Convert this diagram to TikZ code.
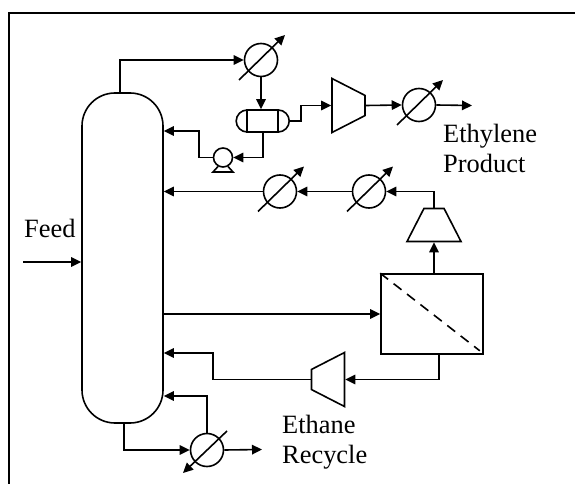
\documentclass[tikz,border=0pt]{standalone}
\usepackage{fontspec}
\setmainfont{Liberation Serif}
\usetikzlibrary{arrows.meta,calc,positioning,shapes.geometric}

\tikzset{
  stream/.style={line width=1.6bp,-{Triangle[length=10bp,width=9.5bp]}},
  pipe/.style={line width=1.6bp},
  hx/.style={circle,draw,line width=1.6bp,minimum size=33bp,inner sep=0pt},
  comp/.style={trapezium,draw,line width=1.6bp,trapezium stretches=true,trapezium left angle=50,trapezium right angle=50,minimum width=54bp,minimum height=33bp,inner sep=0pt,text width=2pt,text height=2pt,text depth=0pt},
  lbl/.style={font=\fontsize{26.5}{30}\selectfont,inner sep=0pt,align=left}
}

\begin{document}
\begin{tikzpicture}[x=1bp,y=-1bp]
  \useasboundingbox (0,0) rectangle (575,484);
  \draw[line width=2bp] (9.3,484)--(9.3,13.3)--(575,13.3);
  % column and units
  \node[draw,line width=1.6bp,rounded corners=33bp,minimum width=81bp,minimum height=330bp,inner sep=0pt] (col) at (122.5,258) {};
  \node[hx] (hxa) at (261,60) {};
  \node[hx] (hxb) at (419,105) {};
  \node[hx] (hxc) at (280,191.5) {};
  \node[hx] (hxd) at (369,191.5) {};
  \node[hx] (hxe) at (207,450) {};
  \node[draw,line width=1.6bp,rounded corners=11bp,minimum width=53bp,minimum height=22bp,inner sep=0pt] (drum) at (262.7,121) {};
  \node[circle,draw,line width=1.6bp,minimum size=19bp,inner sep=0pt] (pmp) at (223,157.5) {};
  \node[comp,rotate=-90] (cmpa) at (348.5,105.5) {};
  \node[comp] (cmpb) at (434,225) {};
  \node[comp,rotate=90] (cmpc) at (328,379.5) {};
  \node[draw,line width=1.6bp,minimum width=102bp,minimum height=80bp,inner sep=0pt] (mem) at (432,314) {};
  % details on the units
  \foreach \n in {hxa,hxb,hxc,hxd}{\draw[stream] ($(\n)+(-22,20)$)--($(\n)+(24,-25)$);}
  \draw[stream] ($(hxe)+(20,-19)$)--($(hxe)+(-24,23)$);
  \draw[pipe] ([xshift=-15.5bp]drum.north)--([xshift=-15.5bp]drum.south);
  \draw[pipe] ([xshift=15.5bp]drum.north)--([xshift=15.5bp]drum.south);
  \draw[pipe] ($(pmp)+(-5,9)$)--($(pmp)+(-10,14.5)$)--($(pmp)+(10,14.5)$)--($(pmp)+(5,9)$);
  \draw[line width=1.6bp,dash pattern=on 10bp off 7bp] (mem.north west)--($(mem.south east)+(-4,-4)$);
  % overhead section
  \draw[stream] ([xshift=-2.5bp]col.north) |- (hxa.west);
  \draw[stream] (hxa.south) -- (hxa.south |- drum.north);
  \draw[stream] (drum.east) -- ++(11,0) |- (cmpa.bottom side);
  \draw[stream] (cmpa.top side) -- (hxb.west);
  \coordinate (ethyl) at (472,105.5);
  \draw[stream] (hxb.east) -- (ethyl);
  \draw[stream] (drum.south) |- (pmp.east);
  \draw[stream] (pmp.west) -- ++(-14,0) |- (col.east |- 0,131);
  % membrane loop
  \draw[stream] (cmpb.top side) |- (hxd.east);
  \draw[stream] (hxd.west) -- (hxc.east);
  \draw[stream] (hxc.west) -- (col.east |- hxc.west);
  \draw[stream] (mem.north -| cmpb.bottom side) -- (cmpb.bottom side);
  \draw[stream] (col.east |- mem.west) -- (mem.west);
  \draw[stream] ([xshift=7bp]mem.south) |- (cmpc.bottom side);
  \draw[stream] (cmpc.top side) -- ++(-98,0) |- (col.east |- 0,353);
  % bottom section
  \draw[stream] ([xshift=1.5bp]col.south) |- (hxe.west);
  \coordinate (rcy) at (262,449.5);
  \draw[stream] (hxe.east) -- (rcy);
  \draw[stream] (hxe.north) |- (col.east |- 0,396);
  % feed
  \coordinate (feedin) at (23,262);
  \draw[stream] (feedin) -- (col.west |- feedin);
  % labels
  \node[lbl,anchor=base west] (fd) at (24,237) {Feed};
  \node[lbl,anchor=north west] (eth) at (443,124) {Ethylene\\Product};
  \node[lbl,anchor=north west] (ean) at (282,415) {Ethane\\Recycle};
\end{tikzpicture}
\end{document}
